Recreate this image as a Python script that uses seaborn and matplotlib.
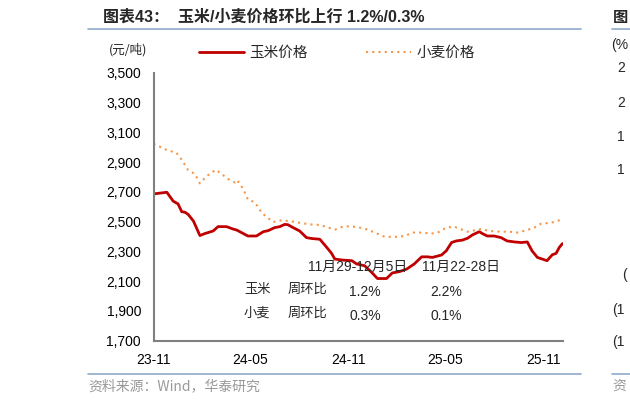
import pandas as pd
import matplotlib
matplotlib.use("Agg")
import matplotlib.pyplot as plt
import matplotlib.dates as mdates
from matplotlib.ticker import FuncFormatter
from matplotlib.lines import Line2D
import seaborn as sns

# ===============================
# Data (yuan/ton)
# ===============================
corn_dates = [
    "2023-11-01", "2023-11-26", "2023-12-08", "2023-12-17", "2023-12-24", "2023-12-30",
    "2024-01-05", "2024-01-15", "2024-01-27", "2024-02-05", "2024-02-21", "2024-03-01",
    "2024-03-17", "2024-03-29", "2024-04-05", "2024-04-14", "2024-04-26", "2024-05-12",
    "2024-05-25", "2024-06-03", "2024-06-15", "2024-06-25", "2024-07-04", "2024-07-10",
    "2024-07-20", "2024-08-01", "2024-08-14", "2024-08-24", "2024-09-08", "2024-09-21",
    "2024-09-30", "2024-10-06", "2024-10-21", "2024-11-07", "2024-11-16", "2024-12-01",
    "2024-12-14", "2024-12-25", "2025-01-11", "2025-01-22", "2025-02-04", "2025-02-18",
    "2025-03-04", "2025-03-18", "2025-03-29", "2025-04-07", "2025-04-24", "2025-05-03",
    "2025-05-13", "2025-05-22", "2025-06-02", "2025-06-12", "2025-06-21", "2025-07-04",
    "2025-07-10", "2025-07-19", "2025-08-01", "2025-08-14", "2025-08-25", "2025-09-08",
    "2025-09-21", "2025-10-02", "2025-10-11", "2025-10-21", "2025-11-08", "2025-11-18",
    "2025-11-25", "2025-12-01", "2025-12-07",
]
corn_price = [
    2687, 2698, 2638, 2620, 2567, 2564,
    2549, 2504, 2407, 2420, 2438, 2467,
    2467, 2451, 2444, 2427, 2404, 2404,
    2433, 2440, 2460, 2467, 2482, 2480,
    2460, 2438, 2393, 2387, 2382, 2327,
    2287, 2249, 2242, 2238, 2216, 2204,
    2160, 2118, 2118, 2156, 2164, 2182,
    2216, 2264, 2264, 2260, 2276, 2304,
    2360, 2371, 2376, 2389, 2411, 2433,
    2420, 2404, 2404, 2393, 2371, 2364,
    2360, 2364, 2304, 2260, 2238, 2278,
    2287, 2327, 2353,
]

wheat_dates = [
    "2023-11-01", "2023-11-13", "2023-11-26", "2023-12-14", "2023-12-24", "2024-01-05",
    "2024-01-18", "2024-01-27", "2024-02-05", "2024-02-15", "2024-02-26", "2024-03-08",
    "2024-03-23", "2024-04-02", "2024-04-06", "2024-04-17", "2024-04-26", "2024-05-09",
    "2024-05-22", "2024-05-31", "2024-06-12", "2024-06-28", "2024-07-14", "2024-08-01",
    "2024-08-20", "2024-09-08", "2024-09-21", "2024-10-06", "2024-10-19", "2024-10-30",
    "2024-11-18", "2024-12-05", "2024-12-20", "2025-01-08", "2025-01-27", "2025-02-14",
    "2025-03-01", "2025-03-19", "2025-04-05", "2025-04-17", "2025-05-03", "2025-05-18",
    "2025-05-31", "2025-06-12", "2025-06-25", "2025-07-08", "2025-07-23", "2025-08-11",
    "2025-08-29", "2025-09-13", "2025-09-30", "2025-10-15", "2025-10-28", "2025-11-16",
    "2025-11-25", "2025-12-05",
]
wheat_price = [
    3024, 3004, 2982, 2964, 2916, 2847,
    2820, 2758, 2793, 2824, 2849, 2820,
    2780, 2764, 2780, 2722, 2649, 2631,
    2560, 2533, 2498, 2509, 2504, 2493,
    2482, 2478, 2464, 2447, 2464, 2469,
    2464, 2449, 2427, 2398, 2398, 2404,
    2427, 2427, 2420, 2427, 2460, 2467,
    2449, 2433, 2442, 2451, 2438, 2433,
    2433, 2427, 2442, 2460, 2487, 2493,
    2504, 2513,
]

x_ticks = ["2023-11-01", "2024-05-01", "2024-11-01", "2025-05-01", "2025-11-01"]
y_ticks = list(range(1700, 3501, 200))

week_headers = ["11月29-12月5日", "11月22-28日"]
table_rows = ["玉米", "小麦"]
corn_wow = ["1.2%", "2.2%"]
wheat_wow = ["0.3%", "0.1%"]

corn_df = pd.DataFrame({"date": pd.to_datetime(corn_dates), "price": corn_price})
wheat_df = pd.DataFrame({"date": pd.to_datetime(wheat_dates), "price": wheat_price})

# ===============================
# Style
# ===============================
sns.set_style("white")
FAM = ["Liberation Sans", "Noto Sans CJK SC", "DejaVu Sans"]
CJK = ["Noto Sans CJK SC", "Liberation Sans", "DejaVu Sans"]
plt.rcParams["font.family"] = FAM

RED = "#C00000"
ORANGE = "#F79646"
RULE = "#8FAACB"
GREY = "#808080"

W, H = 630, 403
fig = plt.figure(figsize=(W / 100, H / 100), dpi=100)
ax = fig.add_axes([153.5 / W, 1 - 340.7 / H, (563 - 153.5) / W, (340.7 - 73) / H])

sns.lineplot(data=corn_df, x="date", y="price", ax=ax, color=RED, linewidth=2.0)
sns.lineplot(data=wheat_df, x="date", y="price", ax=ax, color=ORANGE,
             linewidth=1.5, linestyle=(0, (1, 2)))

ax.set_ylim(1700, 3500)
ax.set_xlim(pd.Timestamp("2023-11-01"), pd.Timestamp("2025-12-08"))
ax.set_yticks(y_ticks)
ax.yaxis.set_major_formatter(FuncFormatter(lambda v, p: f"{int(v):,}"))
ax.set_xticks(pd.to_datetime(x_ticks))
ax.xaxis.set_major_formatter(mdates.DateFormatter("%y-%m"))
ax.set_xlabel("")
ax.set_ylabel("")

for side in ["top", "right"]:
    ax.spines[side].set_visible(False)
for side in ["left", "bottom"]:
    ax.spines[side].set_color(GREY)
    ax.spines[side].set_linewidth(1.5)
ax.tick_params(axis="both", direction="out", length=4, width=1, color=GREY,
               labelsize=10, labelcolor="black")
ax.tick_params(axis="x", pad=5)
ax.tick_params(axis="y", pad=5)

# legend above the plot
handles = [
    Line2D([], [], color=RED, linewidth=2.0),
    Line2D([], [], color=ORANGE, linewidth=1.5, linestyle=(0, (1, 2))),
]
fig.legend(handles, ["玉米价格", "小麦价格"], loc="center left",
           bbox_to_anchor=(199 / W, 1 - 53 / H), ncol=2, frameon=False,
           handlelength=3.1, handletextpad=0.35, columnspacing=4.0,
           borderpad=0, borderaxespad=0,
           prop={"family": CJK, "size": 10.5})

# unit label
fig.text(109 / W, 1 - 50 / H, "(元/吨)", family=CJK, fontsize=9, va="center")

# title and rules
fig.text(103 / W, 1 - 17 / H, "图表43：  玉米/小麦价格环比上行 1.2%/0.3%",
         family=FAM, fontsize=11.5, fontweight="bold", va="center")
fig.add_artist(Line2D([88 / W, 581 / W], [1 - 29 / H] * 2, color=RULE, linewidth=1.2))
fig.add_artist(Line2D([88 / W, 581 / W], [1 - 374 / H] * 2, color=RULE, linewidth=1.2))
fig.text(88 / W, 1 - 386 / H, "资料来源：Wind，华泰研究", family=CJK, fontsize=10,
         color="#999999", va="center")

# week-on-week table
for i, head in enumerate(week_headers):
    fig.text([358, 461][i] / W, 1 - 267 / H, head, family=FAM, fontsize=10,
             ha="center", va="center")
for j, row in enumerate(table_rows):
    yy = [289, 313][j]
    fig.text(244 / W, 1 - yy / H, row, family=CJK, fontsize=9.5, va="center")
    fig.text(288 / W, 1 - yy / H, "周环比", family=CJK, fontsize=9.5, va="center")
    vals = corn_wow if j == 0 else wheat_wow
    for i, v in enumerate(vals):
        fig.text([365, 446][i] / W, 1 - (yy + 3) / H, v, family=FAM, fontsize=10,
                 ha="center", va="center")

# neighbouring chart fragment at the right edge of the page (visible part only)
fig.add_artist(Line2D([612 / W, 1.0], [1 - 29 / H] * 2, color=RULE, linewidth=1.2))
fig.add_artist(Line2D([612 / W, 1.0], [1 - 374 / H] * 2, color=RULE, linewidth=1.2))
fig.text(613 / W, 1 - 17 / H, "图", family=CJK, fontsize=11,
         fontweight="bold", va="center")
fig.text(611 / W, 1 - 45 / H, "(%", family=FAM, fontsize=10, va="center")
for lab, yy, xx in [("2", 68, 617), ("2", 103, 617), ("1", 137, 617), ("1", 170, 617),
                    ("(", 275, 622), ("(1", 310, 612), ("(1", 342, 612)]:
    fig.text(xx / W, 1 - yy / H, lab, family=FAM, fontsize=10, va="center")
fig.text(612 / W, 1 - 386 / H, "资", family=CJK, fontsize=10,
         color="#999999", va="center")

fig.savefig("out.png", dpi=100)
